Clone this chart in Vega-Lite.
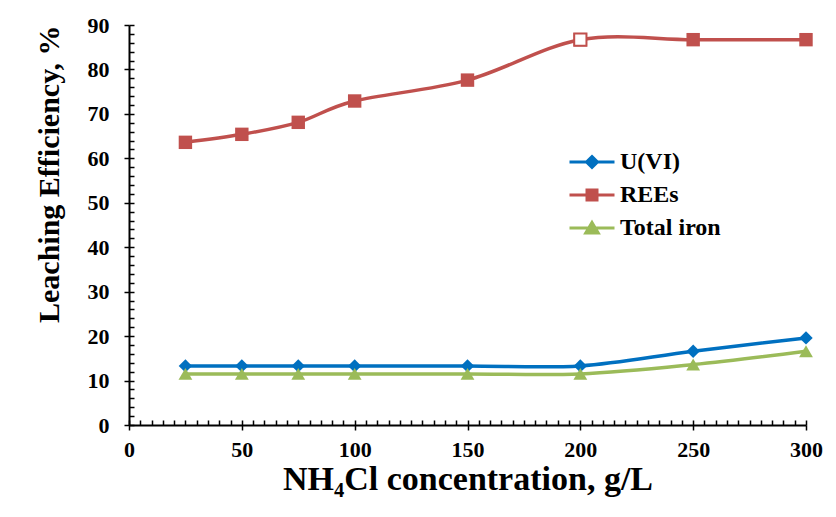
{
  "$schema": "https://vega.github.io/schema/vega-lite/v6.json",
  "autosize": {"type": "none"},
  "width": 677,
  "height": 400,
  "padding": {"left": 129, "top": 25, "right": 30, "bottom": 92},
  "background": "white",
  "config": {
    "view": {"stroke": null},
    "axis": {"labelFont": "Liberation Serif", "labelFontWeight": "bold", "labelFontSize": 22, "labelColor": "black", "titleFont": "Liberation Serif", "titleFontWeight": "bold", "titleColor": "black", "domainColor": "black", "tickColor": "black", "domainWidth": 2, "tickWidth": 1.5, "labelFlush": false, "labelOverlap": false, "grid": true, "gridColor": "black", "gridWidth": 1.5, "gridOpacity": 1},
    "axisX": {"gridDash": [0, 395, 5, 2000]},
    "axisY": {"gridDash": [5, 2000]}
  },
  "data": {"values": [
    {"x": 25, "series": "U(VI)", "y": 13.3},
    {"x": 50, "series": "U(VI)", "y": 13.3},
    {"x": 75, "series": "U(VI)", "y": 13.3},
    {"x": 100, "series": "U(VI)", "y": 13.3},
    {"x": 150, "series": "U(VI)", "y": 13.3},
    {"x": 200, "series": "U(VI)", "y": 13.3},
    {"x": 250, "series": "U(VI)", "y": 16.6},
    {"x": 300, "series": "U(VI)", "y": 19.6},
    {"x": 25, "series": "REEs", "y": 63.6},
    {"x": 50, "series": "REEs", "y": 65.4},
    {"x": 75, "series": "REEs", "y": 68.1},
    {"x": 100, "series": "REEs", "y": 72.9},
    {"x": 150, "series": "REEs", "y": 77.6},
    {"x": 200, "series": "REEs", "y": 86.7},
    {"x": 250, "series": "REEs", "y": 86.7},
    {"x": 300, "series": "REEs", "y": 86.7},
    {"x": 25, "series": "Total iron", "y": 11.5},
    {"x": 50, "series": "Total iron", "y": 11.5},
    {"x": 75, "series": "Total iron", "y": 11.5},
    {"x": 100, "series": "Total iron", "y": 11.5},
    {"x": 150, "series": "Total iron", "y": 11.5},
    {"x": 200, "series": "Total iron", "y": 11.5},
    {"x": 250, "series": "Total iron", "y": 13.6},
    {"x": 300, "series": "Total iron", "y": 16.6}
  ]},
  "encoding": {
    "x": {"field": "x", "type": "quantitative", "scale": {"domain": [0, 300], "nice": false},
      "axis": {"orient": "bottom", "values": [0,5,10,15,20,25,30,35,40,45,50,55,60,65,70,75,80,85,90,95,100,105,110,115,120,125,130,135,140,145,150,155,160,165,170,175,180,185,190,195,200,205,210,215,220,225,230,235,240,245,250,255,260,265,270,275,280,285,290,295,300],
        "labelExpr": "datum.value % 50 === 0 ? datum.label : ''",
        "tickOpacity": {"condition": {"test": "datum.value % 50 === 0", "value": 1}, "value": 0},
        "tickSize": 5, "labelPadding": 9, "title": "NH₄Cl concentration, g/L", "titleFontSize": 34, "titlePadding": 2}},
    "y": {"field": "y", "type": "quantitative", "scale": {"domain": [0, 90], "nice": false},
      "axis": {"orient": "left", "values": [0,2,4,6,8,10,12,14,16,18,20,22,24,26,28,30,32,34,36,38,40,42,44,46,48,50,52,54,56,58,60,62,64,66,68,70,72,74,76,78,80,82,84,86,88,90],
        "labelExpr": "datum.value % 10 === 0 ? datum.label : ''",
        "tickOpacity": {"condition": {"test": "datum.value % 10 === 0", "value": 1}, "value": 0},
        "tickSize": 5, "labelPadding": 15, "title": "Leaching Efficiency, %", "titleFontSize": 30, "titleAnchor": "end", "titlePadding": 23}}
  },
  "layer": [
    {
      "mark": {"type": "line", "interpolate": "cardinal", "strokeWidth": 3.5},
      "encoding": {
        "color": {"field": "series", "type": "nominal",
          "scale": {"domain": ["U(VI)", "REEs", "Total iron"], "range": ["#0070C0", "#C0504D", "#9BBB59"]},
          "legend": {"title": null, "orient": "none", "legendX": 434, "legendY": 125, "padding": 0,
            "labelFont": "Liberation Serif", "labelFontWeight": "bold", "labelFontSize": 24, "labelColor": "black",
            "symbolSize": 100, "symbolStrokeWidth": 3, "symbolOffset": 17, "labelOffset": 16, "rowPadding": 9,
            "encode": {"symbols": {"update": {
              "shape": {"signal": "datum.value === 'U(VI)' ? 'M-4.5,0H4.5M0,-1.1L1.1,0L0,1.1L-1.1,0Z' : datum.value === 'REEs' ? 'M-4.5,0H4.5M-1,-1H1V1H-1Z' : 'M-4.5,0H4.5M0,-1.1L1.25,1H-1.25Z'"},
              "fill": {"scale": "color", "field": "value"},
              "stroke": {"scale": "color", "field": "value"},
              "strokeWidth": {"value": 3},
              "opacity": {"value": 1}
            }}}}}
      }
    },
    {
      "transform": [{"filter": "datum.series === 'U(VI)'"}],
      "mark": {"type": "point", "shape": "diamond", "filled": true, "fill": "#0070C0", "opacity": 1, "size": 180}
    },
    {
      "transform": [{"filter": "datum.series === 'REEs'"}],
      "mark": {"type": "point", "shape": "square", "filled": true, "fill": "#C0504D", "opacity": 1, "size": 180}
    },
    {
      "transform": [{"filter": "datum.series === 'Total iron'"}],
      "mark": {"type": "point", "shape": "triangle-up", "filled": true, "fill": "#9BBB59", "opacity": 1, "size": 190}
    },
    {
      "transform": [{"filter": "datum.series === 'REEs' && datum.x === 200"}],
      "mark": {"type": "square", "filled": true, "fill": "white", "stroke": "#C0504D", "strokeWidth": 2, "size": 150, "opacity": 1}
    }
  ]
}
